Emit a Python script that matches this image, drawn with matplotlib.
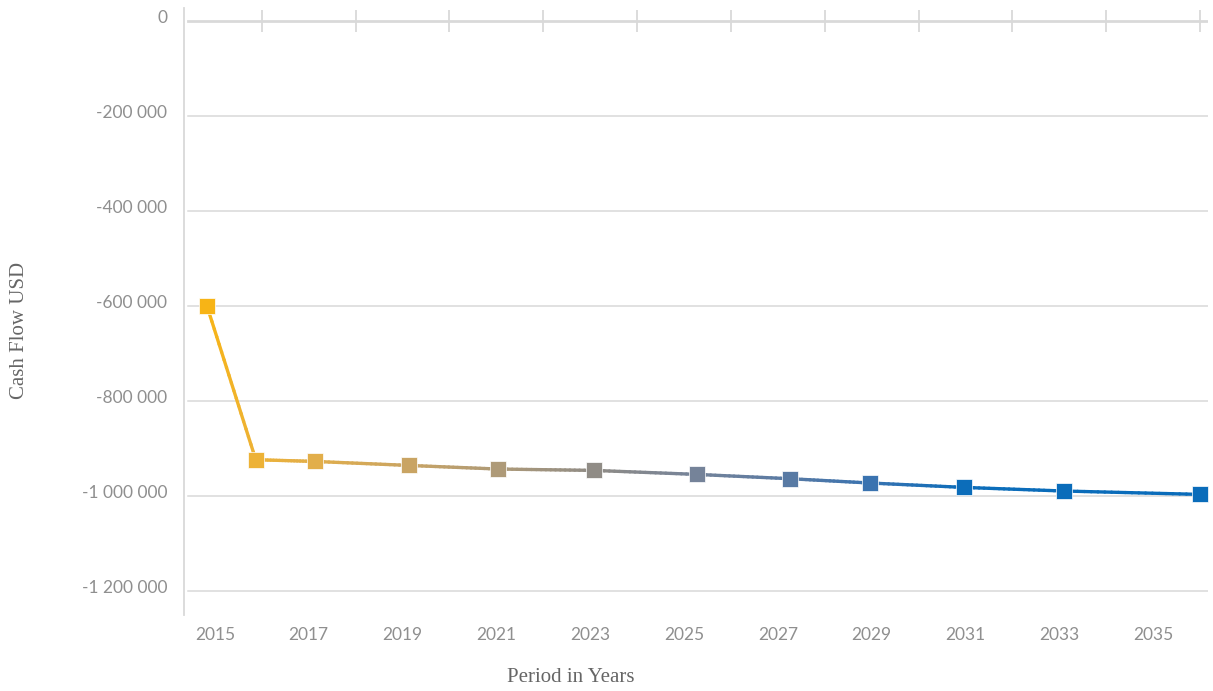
import matplotlib
matplotlib.use("Agg")
import matplotlib.pyplot as plt
import matplotlib.transforms as mtransforms
from matplotlib.colors import to_rgb
import numpy as np

# cash flow per period (USD)
years = [2014.83, 2015.87, 2017.13, 2019.13, 2021.03, 2023.08,
         2025.27, 2027.26, 2028.96, 2030.97, 2033.1, 2036.0]
cash_flow = [-600000, -923600, -927200, -935600, -943200, -946100,
             -954500, -963600, -972600, -981900, -989500, -996600]
point_colors = ["#F7B416", "#EDB236", "#E2AE4A", "#C9A463", "#AE9A78", "#908C86",
                "#758399", "#587AA4", "#3A73B0", "#0C6DBA", "#0A6CBA", "#0A6CBA"]

tick_years = [2015, 2017, 2019, 2021, 2023, 2025, 2027, 2029, 2031, 2033, 2035]
top_marks = [2016, 2018, 2020, 2022, 2024, 2026, 2028, 2030, 2032, 2034, 2036]
y_ticks = [0, -200000, -400000, -600000, -800000, -1000000, -1200000]

grid_c = "#D9D9D9"
text_c = "#8F8F8F"

fig = plt.figure(figsize=(12.13, 6.91), dpi=100)
ax = fig.add_axes([184 / 1213, 1 - 615 / 691, 1024 / 1213, 607 / 691])

ax.set_xlim(2014.34, 2036.17)
ax.set_ylim(-1250500, 27400)

for s in ["top", "right", "bottom"]:
    ax.spines[s].set_visible(False)
ax.spines["left"].set_color(grid_c)
ax.spines["left"].set_linewidth(1.3)

# horizontal grid
for v in y_ticks[1:]:
    ax.axhline(v, xmin=0.004, color=grid_c, lw=1.1, zorder=1)
# zero line with crossing tick marks
ax.axhline(0, xmin=0.004, color=grid_c, lw=2.0, zorder=1)
ax.plot(top_marks, [0] * len(top_marks), ls="none", marker="|",
        markersize=16, markeredgewidth=1.3, color=grid_c, zorder=1)

# line segments with colour blending between points
for i in range(len(years) - 1):
    c0 = np.array(to_rgb(point_colors[i]))
    c1 = np.array(to_rgb(point_colors[i + 1]))
    n = 20
    xs = np.linspace(years[i], years[i + 1], n + 1)
    ys = np.linspace(cash_flow[i], cash_flow[i + 1], n + 1)
    for k in range(n):
        t = (k + 0.5) / n
        ax.plot(xs[k:k + 2], ys[k:k + 2], color=c0 * (1 - t) + c1 * t,
                lw=2.4, solid_capstyle="round", zorder=2)

for x, y, c in zip(years, cash_flow, point_colors):
    ax.plot(x, y, marker="s", markersize=11.5, color=c, markeredgecolor="white",
            markeredgewidth=0.5, zorder=3)

ax.set_xticks(tick_years)
ax.set_xticklabels([str(y) for y in tick_years])
ax.set_yticks(y_ticks)
ax.set_yticklabels(["0" if v == 0 else f"{v:,}".replace(",", " ") for v in y_ticks])
ax.tick_params(axis="x", length=0, pad=9, labelsize=12.5, labelcolor=text_c)
ax.tick_params(axis="y", length=0, pad=12, labelsize=12.5, labelcolor=text_c)
for lab in ax.get_xticklabels() + ax.get_yticklabels():
    lab.set_fontfamily("Lato")
# y labels sit a little above their grid lines
shift = mtransforms.ScaledTranslation(0, 5 / 100, fig.dpi_scale_trans)
for lab in ax.get_yticklabels():
    lab.set_transform(lab.get_transform() + shift)

fig.text(571 / 1213, 1 - 678 / 691, "Period in Years", ha="center", va="center",
         fontsize=15, color="#666666", family="Liberation Serif")
fig.text(20 / 1213, 1 - 330 / 691, "Cash Flow USD", ha="center", va="center",
         rotation=90, fontsize=15, color="#666666", family="Liberation Serif")

fig.savefig("out.png", dpi=100)
